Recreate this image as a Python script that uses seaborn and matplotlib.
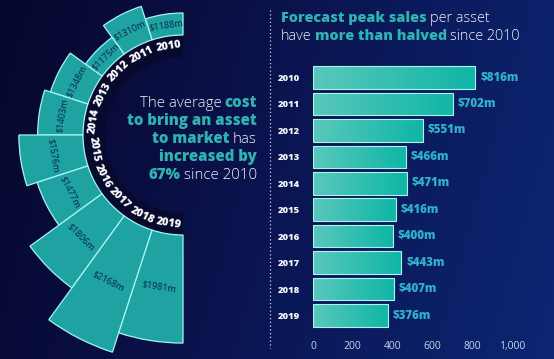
import numpy as np
import matplotlib
matplotlib.use("Agg")
import matplotlib.pyplot as plt
import seaborn as sns
import pandas as pd
from matplotlib.colors import LinearSegmentedColormap
from matplotlib.transforms import IdentityTransform

# data
years = ["2010", "2011", "2012", "2013", "2014", "2015", "2016", "2017", "2018", "2019"]
cost = [1188, 1310, 1175, 1348, 1403, 1576, 1477, 1806, 2168, 1981]
peak_sales = [816, 702, 551, 466, 471, 416, 400, 443, 407, 376]
sales_ticks = [0, 200, 400, 600, 800, 1000]

W, H = 554, 359
TEAL = "#2fb3b1"
VAL_BLUE = "#2fb0c8"
WHITE = "#f2f4fa"

sns.set_theme(style="white")
plt.rcParams["font.family"] = ["Open Sans", "DejaVu Sans"]

fig = plt.figure(figsize=(W / 100, H / 100), dpi=100)

# background
bg = fig.add_axes([0, 0, 1, 1])
bg_cmap = LinearSegmentedColormap.from_list("bg", ["#07082e", "#0a0f44", "#0b1b5e", "#0c2672"])
gx = np.linspace(0, 1, 256)
gy = np.linspace(0, 1, 64)[:, None]
bg.imshow(gx[None, :] * 0.85 + gy * 0.15, cmap=bg_cmap, aspect="auto", extent=[0, 1, 0, 1])
bg.plot([270 / W, 270 / W], [1 - 10 / H, 1 - 348 / H], color="#c8d0ea", lw=0.9,
        ls=(0, (1, 2)))
bg.set_xlim(0, 1)
bg.set_ylim(0, 1)
bg.axis("off")

# ---------- right: horizontal bars ----------
px_per_unit = 0.199
x_left = 313
ax = fig.add_axes([x_left / W, 1 - 331.5 / H, 1100 * px_per_unit / W, 270 / H])
df = pd.DataFrame({"year": years, "sales": peak_sales})
sns.barplot(data=df, x="sales", y="year", color="#2cc0b0", width=0.85,
            edgecolor="#aef3ee", linewidth=0.8, ax=ax)
grad_cmap = LinearSegmentedColormap.from_list("bar", ["#5ac8bb", "#33bfb1", "#10b6a6"])
for p in ax.patches:
    x0, y0 = p.get_x(), p.get_y()
    im = ax.imshow(np.linspace(0, 1, 128)[None, :], cmap=grad_cmap, aspect="auto",
                   extent=[x0, x0 + p.get_width(), y0 + p.get_height(), y0], zorder=p.get_zorder() - 0.1)
    im.set_clip_path(p)
    p.set_facecolor("none")
for i, v in enumerate(peak_sales):
    ax.annotate(f"${v}m", (v, i), xytext=(3.5, 0), textcoords="offset points",
                ha="left", va="center", color=VAL_BLUE, fontsize=8.3, fontweight="heavy")
ax.set_xlim(0, 1100)
ax.set_ylim(9.6, -0.6)
ax.set_xticks(sales_ticks)
ax.set_xticklabels([f"{t:,}" for t in sales_ticks], color="#c9d2ec", fontsize=7.5)
ax.set_yticklabels(years, color=WHITE, fontsize=6.8, fontweight="heavy")
ax.tick_params(axis="x", length=0, pad=7)
ax.tick_params(axis="y", length=0, pad=9.5)
ax.set_xlabel("")
ax.set_ylabel("")
ax.set_facecolor("none")
for s in ax.spines.values():
    s.set_visible(False)

# ---------- left: radial bars ----------
k = 0.1085          # px per $m
inner_px = 100      # inner radius of the bars
base = 985          # $m at the inner radius
outer_px = 240
cx, cy = 183, 135
rmin = base - inner_px / k
pax = fig.add_axes([(cx - outer_px) / W, 1 - (cy + outer_px) / H, 2 * outer_px / W, 2 * outer_px / H],
                   projection="polar")
pax.set_ylim(rmin, rmin + outer_px / k)
pax.set_facecolor("none")
pax.grid(False)
pax.set_xticks([])
pax.set_yticks([])
pax.spines["polar"].set_visible(False)

step = np.deg2rad(18)
theta = np.deg2rad(90) + step * (np.arange(len(years)) + 0.5)
# dark ring under the year labels
pax.bar(np.deg2rad(180), (inner_px - 78) / k, width=np.pi, bottom=rmin + 78 / k,
        color="#07092d", linewidth=0)
pax.bar(theta, np.array(cost) - base, width=step, bottom=base, color="#1ea3a2",
        edgecolor="#a6f4f0", linewidth=0.9)

for th, yr, c in zip(theta, years, cost):
    deg = np.rad2deg(th)
    rot = deg - 90 if deg < 180 else deg - 270
    pax.text(th, rmin + 90 / k, yr, rotation=rot, rotation_mode="anchor",
             ha="center", va="center", color="white", fontsize=7.8, fontweight="heavy")
    pax.text(th, (base + c) / 2, f"${c}m", rotation=rot, rotation_mode="anchor",
             ha="center", va="center", color="#0c2746", fontsize=6.6)

# ---------- mixed-style text ----------
renderer = fig.canvas.get_renderer()


def rich_line(x, y, parts, size, align="left"):
    texts, widths = [], []
    gap = size * 0.3
    for s, bold, col in parts:
        t = fig.text(0, 0, s, transform=IdentityTransform(), fontsize=size,
                     fontweight="heavy" if bold else "light", color=col, va="baseline")
        texts.append(t)
        widths.append(t.get_window_extent(renderer).width)
    total = sum(widths) + gap * (len(parts) - 1)
    pos = x - total if align == "right" else x
    for t, w in zip(texts, widths):
        t.set_position((pos, H - y))
        pos += w + gap


rich_line(281, 22, [("Forecast peak sales", True, TEAL), ("per asset", False, WHITE)], 10.4)
rich_line(281, 40, [("have", False, WHITE), ("more than halved", True, TEAL),
                    ("since 2010", False, WHITE)], 10.4)

rich_line(257, 107, [("The average", False, WHITE), ("cost", True, TEAL)], 10.8, "right")
rich_line(257, 125, [("to bring an asset", True, TEAL)], 10.8, "right")
rich_line(257, 143, [("to market", True, TEAL), ("has", False, WHITE)], 10.8, "right")
rich_line(257, 161, [("increased by", True, TEAL)], 10.8, "right")
rich_line(257, 179, [("67%", True, TEAL), ("since 2010", False, WHITE)], 10.8, "right")

fig.savefig("out.png", dpi=100)
